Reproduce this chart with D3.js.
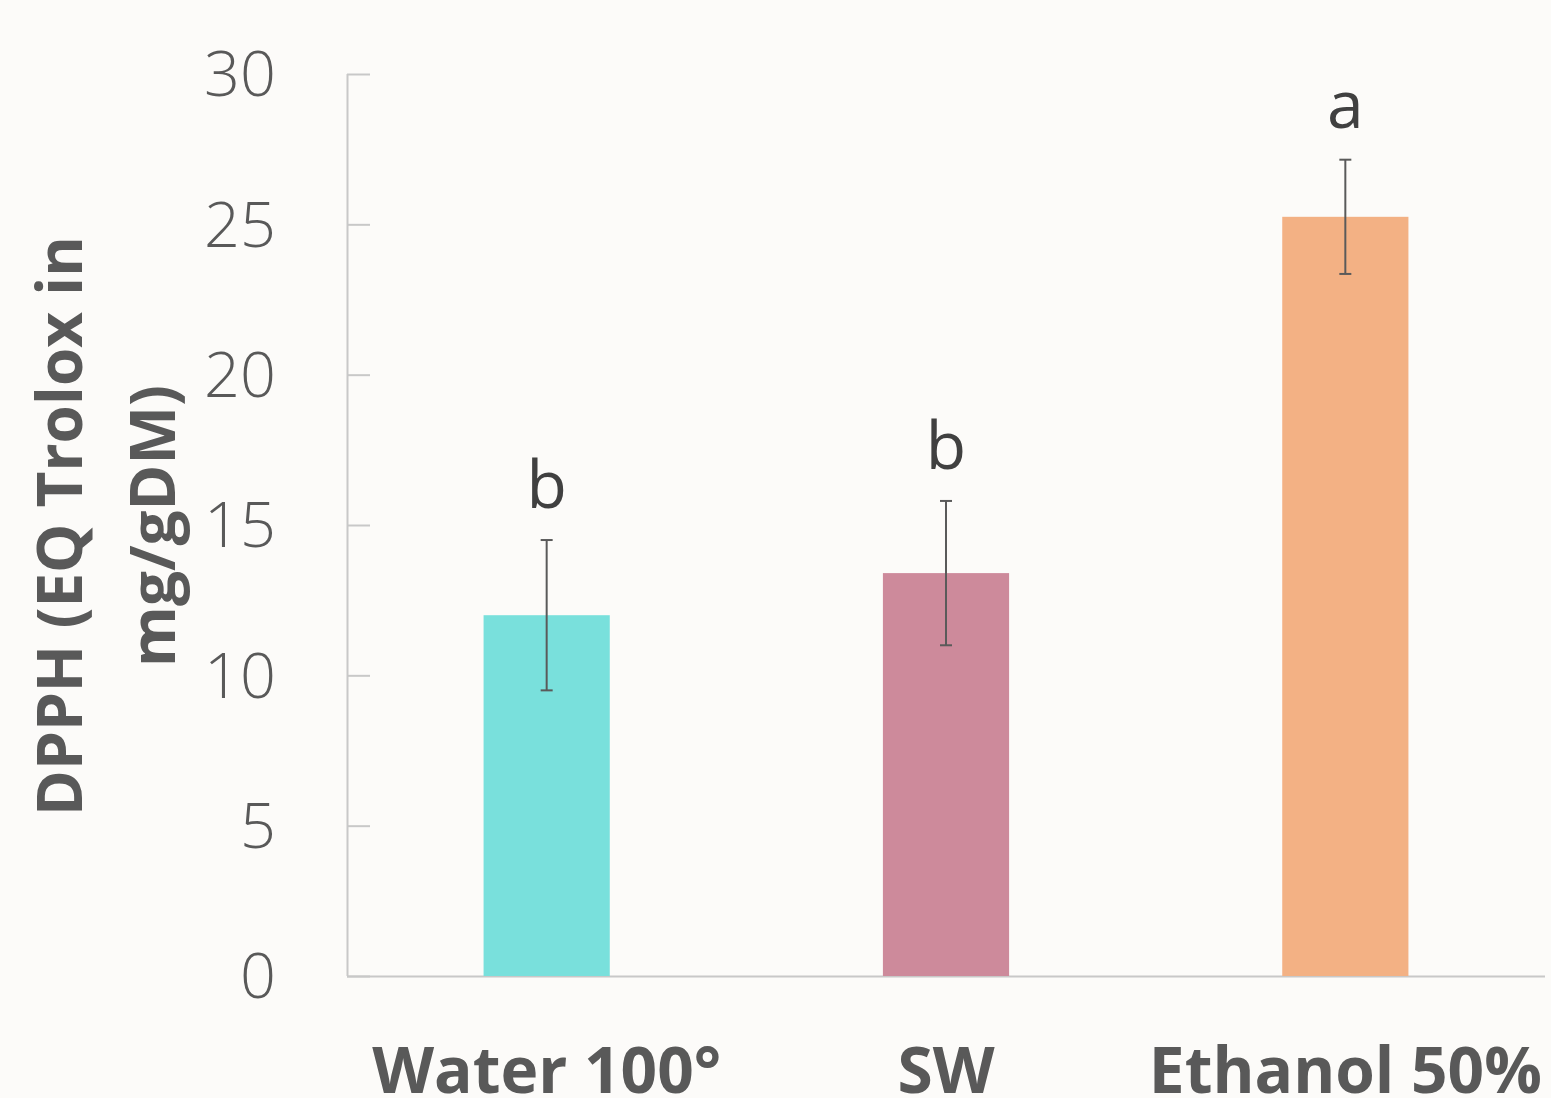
<!DOCTYPE html>
<html>
<head>
<meta charset="utf-8">
<script src="https://cdn.jsdelivr.net/npm/d3@7"></script>
<style>
  html, body { margin: 0; padding: 0; background: #fcfbf9; }
  svg { display: block; }
</style>
</head>
<body>
<svg id="chart" width="1551" height="1098"></svg>
<script>
// DPPH antioxidant activity by extraction solvent
const categories = ["Water 100°", "SW", "Ethanol 50%"];
const means = [12.0, 13.4, 25.25];
const errors = [2.5, 2.4, 1.9];
const groupLetters = ["b", "b", "a"];
const barColors = ["#79e0dc", "#cd8a9b", "#f3b184"];
const yTicks = [0, 5, 10, 15, 20, 25, 30];

const svg = d3.select("#chart");
const margin = { left: 347, right: 6, top: 74, bottom: 122 };
const W = 1551, H = 1098;

const x = d3.scaleBand()
  .domain(categories)
  .range([margin.left, W - margin.right])
  .paddingInner(0.684)
  .paddingOuter(0.342);

const y = d3.scaleLinear()
  .domain([0, 30])
  .range([H - margin.bottom, margin.top]);

const axisColor = "#c8c8c8";
const textGrey = "#595959";

// y axis with ticks pointing into the plot
const yAxis = svg.append("g")
  .attr("transform", `translate(${margin.left},0)`)
  .call(d3.axisRight(y).tickValues(yTicks).tickSize(23).tickFormat(""));
yAxis.select(".domain").attr("stroke", axisColor).attr("stroke-width", 2)
  .attr("d", `M0.5,${y(30)}V${y(0)}`);
yAxis.selectAll(".tick line").attr("stroke", axisColor).attr("stroke-width", 2);

// tick labels
const tickFs = 63;
svg.append("g").selectAll("text")
  .data(yTicks)
  .join("text")
  .attr("x", 276)
  .attr("y", d => y(d) + tickFs * 0.357)
  .attr("text-anchor", "end")
  .attr("font-family", "'Open Sans', sans-serif")
  .attr("font-weight", 300)
  .attr("font-size", tickFs)
  .attr("fill", textGrey)
  .text(d => d);

// baseline
svg.append("line")
  .attr("x1", margin.left).attr("x2", W - margin.right)
  .attr("y1", y(0) + 0.5).attr("y2", y(0) + 0.5)
  .attr("stroke", axisColor).attr("stroke-width", 2);

// bars
svg.append("g").selectAll("rect")
  .data(categories)
  .join("rect")
  .attr("x", d => x(d))
  .attr("width", x.bandwidth())
  .attr("y", (d, i) => y(means[i]))
  .attr("height", (d, i) => y(0) - y(means[i]))
  .attr("fill", (d, i) => barColors[i]);

// error bars
const eb = svg.append("g").attr("stroke", "#5a5a5a").attr("stroke-width", 2);
categories.forEach((c, i) => {
  const cx = x(c) + x.bandwidth() / 2;
  const top = y(means[i] + errors[i]);
  const bot = y(means[i] - errors[i]);
  eb.append("line").attr("x1", cx).attr("x2", cx).attr("y1", top).attr("y2", bot);
  eb.append("line").attr("x1", cx - 6).attr("x2", cx + 6).attr("y1", top).attr("y2", top);
  eb.append("line").attr("x1", cx - 6).attr("x2", cx + 6).attr("y1", bot).attr("y2", bot);
});

// significance letters
svg.append("g").selectAll("text")
  .data(categories)
  .join("text")
  .attr("x", d => x(d) + x.bandwidth() / 2)
  .attr("y", (d, i) => y(means[i] + errors[i]) - 32)
  .attr("text-anchor", "middle")
  .attr("font-family", "'Open Sans', sans-serif")
  .attr("font-size", 66)
  .attr("fill", "#404040")
  .text((d, i) => groupLetters[i]);

// category labels
svg.append("g").selectAll("text")
  .data(categories)
  .join("text")
  .attr("x", d => x(d) + x.bandwidth() / 2)
  .attr("y", 1093)
  .attr("text-anchor", "middle")
  .attr("font-family", "'Open Sans', sans-serif")
  .attr("font-weight", 700)
  .attr("font-size", 64)
  .attr("fill", textGrey)
  .text(d => d);

// y axis title, two lines
const title = svg.append("text")
  .attr("transform", `translate(0,${526}) rotate(-90)`)
  .attr("text-anchor", "middle")
  .attr("font-family", "'Open Sans', sans-serif")
  .attr("font-weight", 700)
  .attr("font-size", 62)
  .attr("fill", textGrey);
title.append("tspan").attr("x", 0).attr("y", 82).text("DPPH (EQ Trolox in");
title.append("tspan").attr("x", 0).attr("y", 175).text("mg/gDM)");
</script>
</body>
</html>
